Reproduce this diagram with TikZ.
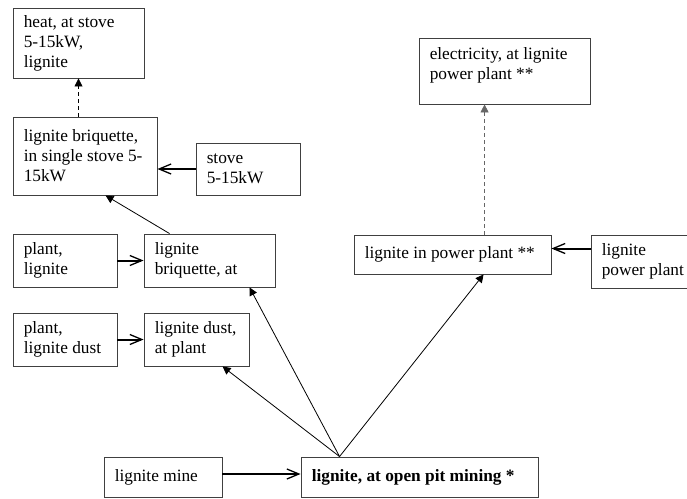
\documentclass[tikz,border=0pt]{standalone}
\usepackage{fontspec}
\setmainfont{Liberation Serif}
\usetikzlibrary{arrows.meta,fit,calc}
\begin{document}
\begin{tikzpicture}[x=1pt,y=-1pt,
  box/.style={draw=black!75, line width=0.9pt, rectangle, inner sep=0pt},
  txt/.style={inner sep=0pt, align=left, font=\fontsize{17.3}{20}\selectfont},
  thinarrow/.style={line width=0.8pt, -{Triangle[length=8pt,width=8pt]}},
  thickarrow/.style={line width=2pt, -{Straight Barb[length=12pt,width=10pt,line width=1.3pt]}},
  dashpat/.style={dash pattern=on 4pt off 3pt}]
\useasboundingbox (0,0) rectangle (687,498);
\fill[white] (0,0) rectangle (687,498);

% boxes
\node[box, fit={(13,8) (144,78)}] (heat) {};
\node[txt, anchor=west] (heat-t) at ([xshift=11pt]heat.west) {heat, at stove\\5-15kW,\\lignite};

\node[box, fit={(13,117) (157,195)}] (bstove) {};
\node[txt, anchor=west] (bstove-t) at ([xshift=11pt]bstove.west) {lignite briquette,\\in single stove 5-\\15kW};

\node[box, fit={(196,143) (300,195)}] (stove) {};
\node[txt, anchor=west] (stove-t) at ([xshift=11pt]stove.west) {stove\\5-15kW};

\node[box, fit={(13,234) (117,287)}] (plantlig) {};
\node[txt, anchor=west] (plantlig-t) at ([xshift=11pt]plantlig.west) {plant,\\lignite};

\node[box, fit={(144,234) (275,287)}] (briqat) {};
\node[txt, anchor=west] (briqat-t) at ([xshift=11pt]briqat.west) {lignite\\briquette, at};

\node[box, fit={(13,313) (117,366)}] (plantdust) {};
\node[txt, anchor=west] (plantdust-t) at ([xshift=11pt]plantdust.west) {plant,\\lignite dust};

\node[box, fit={(144,313) (249,366)}] (dustat) {};
\node[txt, anchor=west] (dustat-t) at ([xshift=11pt]dustat.west) {lignite dust,\\at plant};

\node[box, fit={(104,457) (222,497)}] (mine) {};
\node[txt, anchor=west] (mine-t) at ([xshift=11pt]mine.west) {lignite mine};

\node[box, fit={(301,457) (538,497)}] (openpit) {};
\node[txt, anchor=west, font=\fontsize{17.3}{20}\selectfont\bfseries] (openpit-t) at ([xshift=11pt]openpit.west) {lignite, at open pit mining *};

\node[box, fit={(419,38) (590,104)}] (elec) {};
\node[txt, anchor=north west] (elec-t) at ([xshift=11pt,yshift=-10pt]elec.north west) {electricity, at lignite\\power plant **};

\node[box, fit={(354,235) (551,274)}] (inpp) {};
\node[txt, anchor=west] (inpp-t) at ([xshift=11pt]inpp.west) {lignite in power plant **};

\node[box, fit={(591,235) (705,288)}] (lpp) {};
\node[txt, anchor=west] (lpp-t) at ([xshift=11pt]lpp.west) {lignite\\power plant};

% connectors
\coordinate (apex) at ([xshift=39pt]openpit.north west);

\draw[thinarrow, dashpat] (bstove.north -| heat.south) -- (heat.south);
\draw[thinarrow, dashpat, draw=black!60] ([xshift=131pt]inpp.north west) -- ([xshift=66pt]elec.south west);

\draw[thickarrow] (stove.west) -- (stove.west -| bstove.east);
\draw[thickarrow] (plantlig.east) -- (briqat.west);
\draw[thickarrow] (plantdust.east) -- (dustat.west);
\draw[thickarrow] ([yshift=3pt]mine.east) -- ([yshift=3pt]mine.east -| openpit.west);
\draw[thickarrow] ([yshift=13pt]lpp.west) -- ([yshift=13pt]lpp.west -| inpp.east);

\draw[thinarrow] ([xshift=26pt]briqat.north west) -- ([xshift=93pt]bstove.south west);
\draw[thinarrow] (apex) -- ([xshift=106pt]briqat.south west);
\draw[thinarrow] (apex) -- ([xshift=79pt]dustat.south west);
\draw[thinarrow] (apex) -- ([xshift=130pt]inpp.south west);
\end{tikzpicture}
\end{document}
